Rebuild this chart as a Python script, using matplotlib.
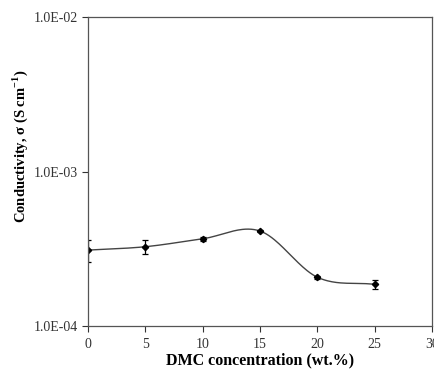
import numpy as np
import matplotlib
matplotlib.use('Agg')
import matplotlib.pyplot as plt
from matplotlib.ticker import FixedLocator, FuncFormatter, NullLocator

# data
dmc = [0, 5, 10, 15, 20, 25]
sigma = [3.1e-4, 3.26e-4, 3.67e-4, 4.12e-4, 2.07e-4, 1.86e-4]
err = [0.5e-4, 0.32e-4, 0.1e-4, 0.06e-4, 0.05e-4, 0.13e-4]
xticks = [0, 5, 10, 15, 20, 25, 30]
yticks = [1e-4, 1e-3, 1e-2]


def smooth(x, y, n=40):
    # Excel-like smoothed line: Catmull-Rom in log space
    x = np.asarray(x, float)
    y = np.log10(np.asarray(y, float))
    px = np.concatenate([[2 * x[0] - x[1]], x, [2 * x[-1] - x[-2]]])
    py = np.concatenate([[2 * y[0] - y[1]], y, [2 * y[-1] - y[-2]]])
    xs, ys = [], []
    t = np.linspace(0, 1, n)
    for i in range(1, len(px) - 2):
        p0, p1, p2, p3 = px[i-1:i+3]
        q0, q1, q2, q3 = py[i-1:i+3]
        for a, b, c, d, out in ((p0, p1, p2, p3, xs), (q0, q1, q2, q3, ys)):
            out.extend(0.5 * ((2 * b) + (-a + c) * t + (2 * a - 5 * b + 4 * c - d) * t**2
                              + (-a + 3 * b - 3 * c + d) * t**3))
    return np.array(xs), 10 ** np.array(ys)


plt.rcParams['font.family'] = ['Liberation Serif', 'DejaVu Serif']
plt.rcParams['mathtext.fontset'] = 'custom'
plt.rcParams['mathtext.rm'] = 'Liberation Serif'
plt.rcParams['mathtext.bf'] = 'Liberation Serif:bold'

fig = plt.figure(figsize=(4.35, 3.71), dpi=100)
ax = fig.add_axes([0.2023, 0.1213, 0.7907, 0.8327])

sx, sy = smooth(dmc, sigma)
ax.plot(sx, sy, color='#444444', lw=1.0)
ax.errorbar(dmc, sigma, yerr=err, fmt='D', color='black', ms=3.2,
            ecolor='black', elinewidth=0.9, capsize=2.5, capthick=0.9)

ax.set_yscale('log')
ax.set_ylim(1e-4, 1e-2)
ax.set_xlim(0, 30)
ax.yaxis.set_major_locator(FixedLocator(yticks))
ax.yaxis.set_minor_locator(NullLocator())
ax.yaxis.set_major_formatter(FuncFormatter(lambda v, p: '%.1E' % v))
ax.set_xticks(xticks)

ax.tick_params(direction='out', length=4, width=0.8, labelsize=10, colors='#333333')
ax.tick_params(axis='x', pad=5)
for s in ax.spines.values():
    s.set_color('#555555')
    s.set_linewidth(0.9)

ax.set_xlabel('DMC concentration (wt.%)', fontsize=11.5, fontweight='bold', labelpad=1)
ax.set_ylabel('Conductivity, σ (S cm$^{\\mathbf{-1}}$)', fontsize=10.5, fontweight='bold')
ax.yaxis.set_label_coords(-0.17, 0.58)

fig.savefig('out.png', dpi=100)
